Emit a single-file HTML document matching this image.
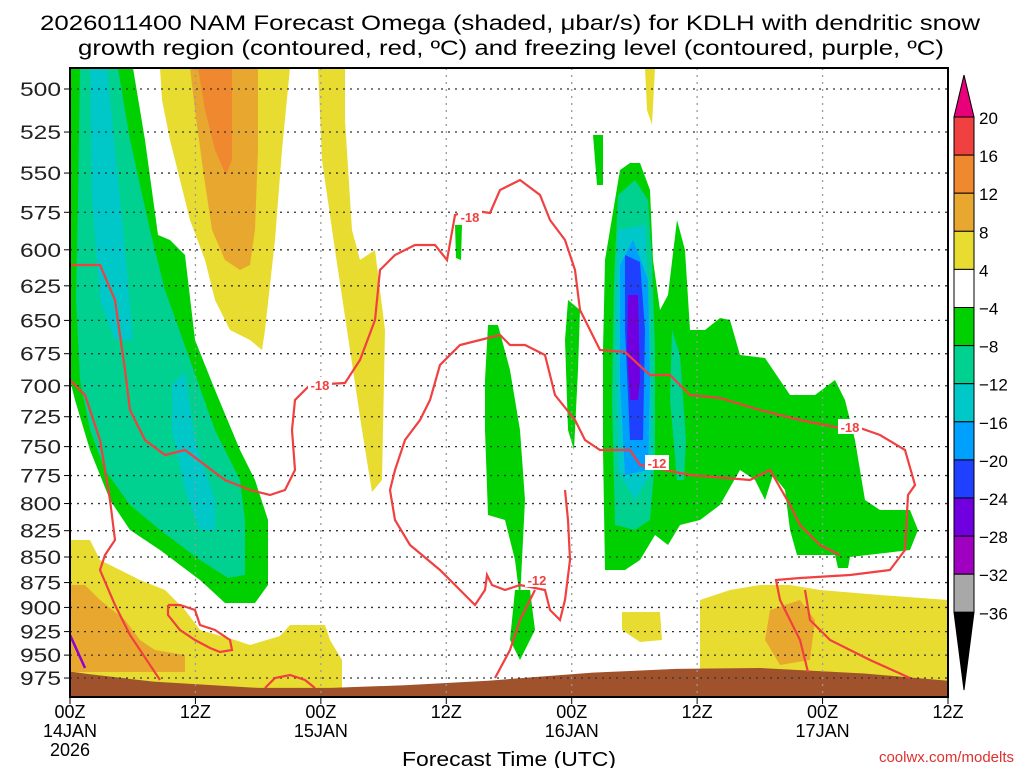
<!DOCTYPE html>
<html><head><meta charset="utf-8"><style>
body{margin:0;background:#fff;width:1024px;height:768px;overflow:hidden;font-family:"Liberation Sans",sans-serif}
svg text{font-family:"Liberation Sans",sans-serif}
</style></head><body>
<svg id="c" width="1024" height="768" xmlns="http://www.w3.org/2000/svg">
<text x="40" y="30" font-size="21" textLength="940" lengthAdjust="spacingAndGlyphs" fill="#000">2026011400 NAM Forecast Omega (shaded, μbar/s) for KDLH with dendritic snow</text>
<text x="78" y="55" font-size="21" textLength="866" lengthAdjust="spacingAndGlyphs" fill="#000">growth region (contoured, red, ºC) and freezing level (contoured, purple, ºC)</text>
<g id="fills"></g><g id="terrain"></g><g id="grid"></g><g id="lines"></g><g id="axes"></g><g id="cbar"></g>
<text x="402" y="766" font-size="20" textLength="214" lengthAdjust="spacingAndGlyphs">Forecast Time (UTC)</text>
<text x="1014" y="762" font-size="15" text-anchor="end" fill="#e03030">coolwx.com/modelts</text>
</svg>
<script>
// axes data
const pTicks=[500,525,550,575,600,625,650,675,700,725,750,775,800,825,850,875,900,925,950,975];
const hTicks=[0,12,24,36,48,60,72,84];
const hLabels=["00Z\n14JAN\n2026","12Z","00Z\n15JAN","12Z","00Z\n16JAN","12Z","00Z\n17JAN","12Z"];
const cbLevels=["20","16","12","8","4","-4","-8","-12","-16","-20","-24","-28","-32","-36"];
const cbColors=["#f04040","#f08830","#e8a830","#e8dc30","#ffffff","#00d000","#00d090","#00c8c8","#00a0ff","#2040ff","#7000e0","#a000c0","#a8a8a8"];
// terrain surface pressure by hour
const sfcHours=[0,2,8,18,25,32,40,50,58,66,76,84];
const sfcP=[968,971,979,986,986,983,978,969,965,964,970,978];
const X0=70,X1=948,Y0=68,Y1=697;
const xs=h=>X0+h*(X1-X0)/84;
const ys=p=>89+882*Math.log(p/500);
// digitized contour geometry (chart pixel space)
const shapes=[
 ["#e8dc30",[[160,68],[290,68],[282,150],[275,240],[265,330],[262,350],[250,340],[230,330],[215,300],[205,260],[190,220],[170,140],[162,100]]],
 ["#e8a830",[[190,68],[258,68],[258,150],[255,230],[250,265],[240,270],[225,260],[212,230],[203,170],[195,110]]],
 ["#f08830",[[198,68],[232,68],[232,160],[226,175],[215,150],[205,110]]],
 ["#e8dc30",[[318,68],[345,68],[345,120],[352,230],[360,260],[375,250],[385,330],[382,480],[372,492],[362,430],[350,350],[335,250],[322,160]]],
 ["#e8dc30",[[645,68],[655,68],[652,125],[647,110]]],
 ["#00d000",[[70,68],[133,68],[145,140],[158,235],[170,240],[185,255],[195,340],[215,390],[240,450],[255,480],[268,520],[268,585],[255,603],[225,603],[200,580],[160,550],[130,530],[110,500],[90,450],[75,400],[70,380]]],
 ["#00d090",[[80,68],[118,68],[130,140],[150,230],[165,290],[190,360],[215,430],[240,480],[245,520],[245,575],[228,578],[200,560],[160,530],[130,505],[105,470],[90,430],[80,380],[76,300],[78,200]]],
 ["#00c8c8",[[90,68],[107,68],[115,150],[125,250],[133,340],[115,340],[100,300],[92,200]]],
 ["#00c8c8",[[172,385],[185,372],[195,440],[215,500],[215,530],[200,530],[185,490],[172,430]]],
 ["#00d000",[[455,225],[462,225],[461,260],[456,258]]],
 ["#00d000",[[488,325],[498,325],[510,370],[520,430],[525,500],[522,560],[520,600],[515,560],[505,520],[488,515],[485,430],[485,380]]],
 ["#00d000",[[515,590],[530,590],[535,630],[520,660],[510,640]]],
 ["#00d000",[[568,300],[580,310],[578,370],[574,450],[568,430],[565,340]]],
 ["#00d000",[[593,135],[603,135],[603,185],[597,185]]],
 ["#00d000",[[605,260],[620,170],[630,163],[640,163],[650,190],[653,260],[660,310],[668,295],[677,220],[685,250],[690,330],[705,330],[720,318],[730,320],[740,355],[765,358],[790,395],[815,395],[835,380],[845,400],[855,440],[865,500],[880,510],[910,510],[918,530],[910,550],[885,553],[850,557],[848,568],[838,568],[835,555],[797,555],[790,530],[785,490],[773,475],[765,500],[755,480],[740,470],[720,505],[700,520],[680,525],[668,545],[655,535],[640,560],[625,570],[605,570],[603,450],[603,350]]],
 ["#00d090",[[618,195],[635,180],[648,200],[652,260],[655,350],[655,460],[650,520],[635,530],[615,525],[612,400],[614,280]]],
 ["#00d090",[[672,330],[680,355],[686,440],[684,480],[677,480],[670,400]]],
 ["#00c8c8",[[618,230],[645,225],[650,320],[652,470],[635,500],[618,470],[616,320]]],
 ["#00a0ff",[[620,265],[633,240],[648,280],[650,380],[648,470],[625,475],[620,380]]],
 ["#2040ff",[[625,255],[640,262],[645,330],[643,440],[630,440],[625,330]]],
 ["#7000e0",[[628,295],[638,295],[640,380],[638,400],[630,400],[627,350]]],
 ["#e8dc30",[[70,540],[90,540],[100,560],[140,580],[165,590],[185,610],[200,630],[235,640],[250,645],[280,636],[290,625],[325,625],[330,640],[342,660],[342,688],[70,688]]],
 ["#e8a830",[[70,585],[85,585],[100,600],[125,620],[140,640],[155,650],[185,655],[185,672],[70,672]]],
 ["#e8dc30",[[700,600],[730,590],[760,585],[790,585],[820,590],[880,595],[948,600],[948,690],[700,690],[700,620]]],
 ["#e8dc30",[[622,612],[660,612],[662,640],[640,642],[622,630]]],
 ["#e8a830",[[770,610],[800,600],[815,620],[810,660],[780,665],[765,640]]]
];
const redLines=[
 [[70,265],[80,265],[100,265],[115,300],[125,370],[130,410],[145,440],[165,455],[185,450],[205,465],[225,480],[250,490],[270,495],[285,490],[295,470],[292,430],[295,400],[310,385],[345,383],[360,360],[375,320],[380,270],[395,255],[415,245],[435,245],[447,260],[455,215],[470,210],[490,213],[500,190],[520,180],[540,195],[550,220],[565,240],[575,270],[580,310],[600,350],[625,352],[650,375],[670,375],[690,395],[720,398],[760,410],[800,420],[840,428],[860,428],[880,435],[905,450],[915,485],[908,495],[905,550],[890,570],[850,575],[800,578],[776,580],[780,600],[800,640],[808,672]],
 [[805,590],[810,620],[830,640],[870,660],[910,678]],
 [[70,380],[85,395],[100,440],[110,500],[115,540],[105,555],[100,570],[115,605],[130,635],[160,680]],
 [[565,490],[568,520],[570,560],[565,600],[560,620],[550,610],[545,590],[520,585],[505,590],[492,585],[487,575],[485,590],[475,605],[460,590],[440,570],[410,545],[395,520],[390,490],[395,470],[405,440],[420,420],[430,400],[440,365],[460,345],[480,340],[500,335],[510,345],[525,345],[545,355],[550,375],[555,395],[575,420],[585,440],[600,450],[630,450],[640,465],[690,475],[750,480],[770,470],[790,505],[800,525],[820,545],[840,555]],
 [[495,678],[510,650],[520,620],[530,600],[535,590]],
 [[168,605],[180,605],[195,610],[200,625],[215,630],[230,640],[232,650],[220,652],[210,648],[195,640],[180,630],[168,615],[168,605]],
 [[265,688],[275,678],[290,675],[305,680],[315,688]]
];
const redLabels=[["-18",470,217],["-18",320,385],["-12",657,463],["-12",537,580],["-18",850,427]];
const NS="http://www.w3.org/2000/svg";
function mk(t,a,parent,txt){const e=document.createElementNS(NS,t);for(const k in a)e.setAttribute(k,a[k]);if(txt!==undefined)e.textContent=txt;document.getElementById(parent).appendChild(e);return e;}
shapes.forEach(s=>{const e=mk('polygon',{points:s[1].map(q=>q.join(',')).join(' '),fill:s[0]},'fills');

});
let tp=sfcHours.map((h,i)=>xs(h)+','+ys(sfcP[i])).join(' ')+` ${X1},${Y1} ${X0},${Y1}`;
const ter=mk('polygon',{points:tp,fill:'#a0522d'},'terrain');


pTicks.forEach(p=>{const e=mk('line',{x1:X0,x2:X1,y1:ys(p),y2:ys(p),stroke:'#333','stroke-width':1.3,'stroke-dasharray':'2,5'},'grid');


const t=mk('text',{x:20,y:ys(p)+7,'font-size':19,textLength:41,lengthAdjust:'spacingAndGlyphs',fill:'#222'},'axes',String(p));


mk('line',{x1:X0-6,x2:X0,y1:ys(p),y2:ys(p),stroke:'#000'},'axes');});
hTicks.forEach((h,i)=>{if(i>0&&i<7){const e=mk('line',{x1:xs(h),x2:xs(h),y1:Y0,y2:Y1,stroke:'#999','stroke-width':1.3,'stroke-dasharray':'2,5'},'grid');

}
mk('line',{x1:xs(h),x2:xs(h),y1:Y1,y2:Y1+7,stroke:'#000'},'axes');
hLabels[i].split('\n').forEach((s,j)=>{const t=mk('text',{x:xs(h),y:718+j*19,'font-size':18,'text-anchor':'middle'},'axes',s);

});});
redLines.forEach(l=>{const e=mk('polyline',{points:l.map(q=>q.join(',')).join(' '),fill:'none',stroke:'#f04040','stroke-width':2.2},'lines');

});
const fz=mk('polyline',{points:'70,635 85,668',fill:'none',stroke:'#9000d0','stroke-width':2.5},'lines');


redLabels.forEach(l=>{mk('rect',{x:l[1]-12,y:l[2]-8,width:24,height:15,fill:'#fff'},'lines');
const t=mk('text',{x:l[1],y:l[2]+5,'font-size':13,'font-weight':'bold','text-anchor':'middle',fill:'#f04040'},'lines',l[0]);

});
const fr=mk('rect',{x:X0,y:Y0,width:X1-X0,height:Y1-Y0,fill:'none',stroke:'#000','stroke-width':2},'axes');


const cx=954,cw=20,ct=117,bh=38.1;
cbColors.forEach((c,i)=>{const e=mk('rect',{x:cx,y:ct+i*bh,width:cw,height:bh,fill:c,stroke:'#000','stroke-width':1},'cbar');

});
mk('polygon',{points:`${cx},${ct} ${cx+cw},${ct} ${cx+cw/2},75`,fill:'#e8007a',stroke:'#000'},'cbar');
mk('polygon',{points:`${cx},${ct+13*bh} ${cx+cw},${ct+13*bh} ${cx+cw/2},690`,fill:'#000',stroke:'#000'},'cbar');
cbLevels.forEach((s,i)=>{const t=mk('text',{x:979,y:ct+i*bh+7,'font-size':17},'cbar',s.replace('-','−'));

});
</script>
</body></html>
